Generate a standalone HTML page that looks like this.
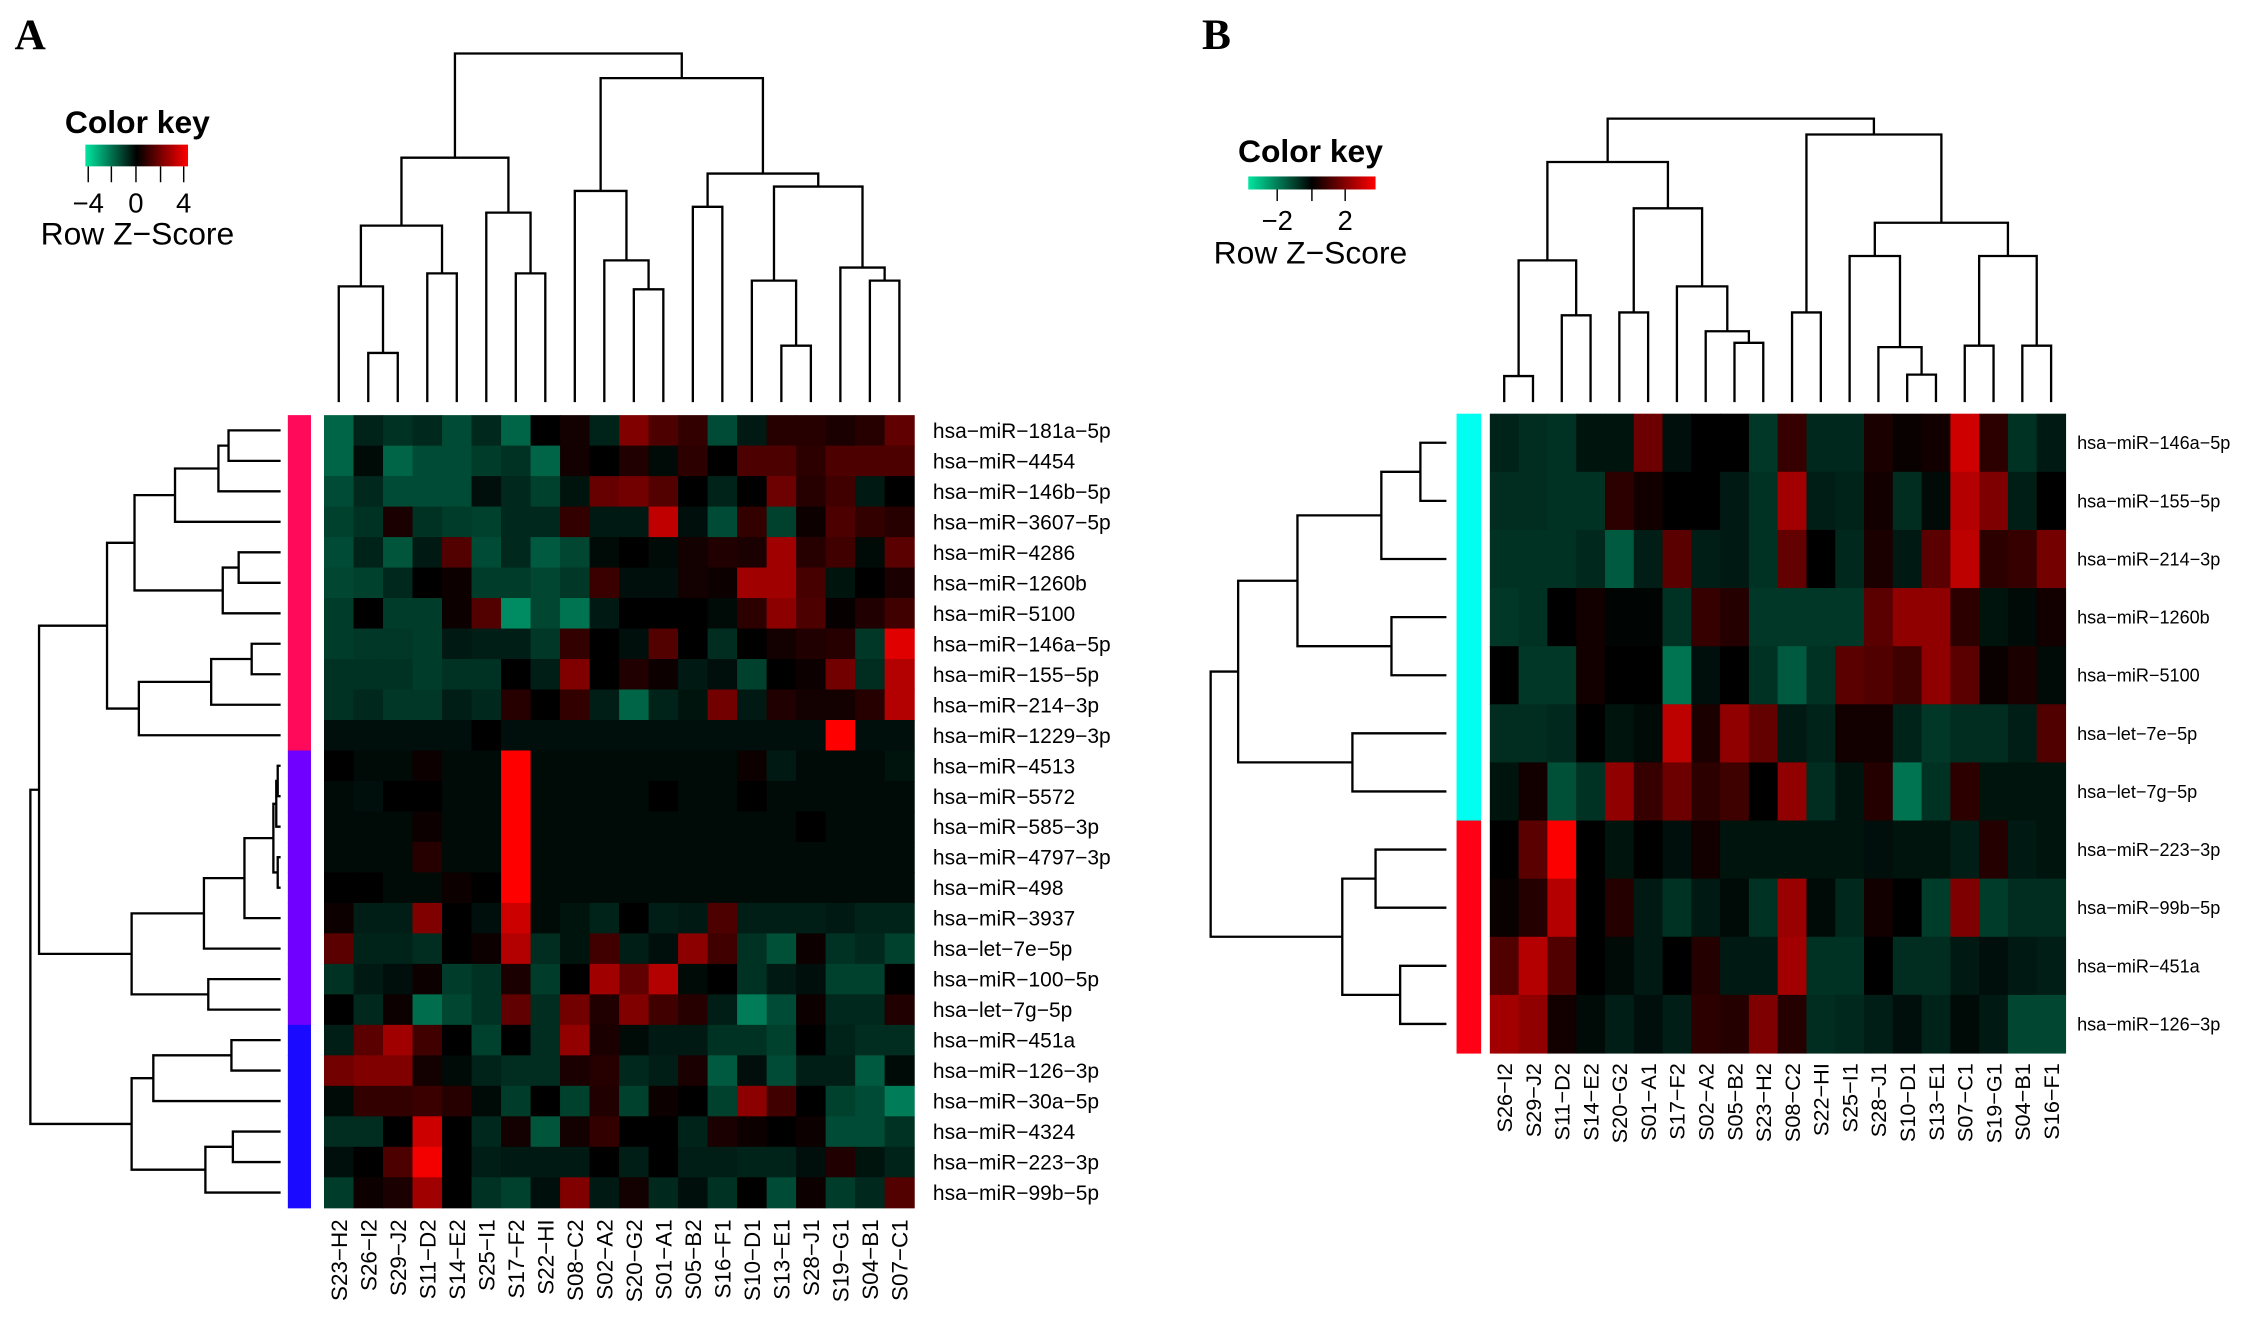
<!DOCTYPE html>
<html><head><meta charset="utf-8">
<style>
html,body{margin:0;padding:0;background:#fff;}
svg{display:block;}
text{font-family:"Liberation Sans",Arial,sans-serif;fill:#000;}
</style></head>
<body>
<svg id="fig" xmlns="http://www.w3.org/2000/svg" width="2268" height="1330" viewBox="0 0 1568 919.5" preserveAspectRatio="none">
<defs>
<linearGradient id="keyGrad" x1="0" x2="1" y1="0" y2="0">
<stop offset="0" stop-color="#00e6a0"/><stop offset="0.5" stop-color="#000"/><stop offset="1" stop-color="#ff0000"/>
</linearGradient>
</defs>
<text x="10" y="34" style="font-family:'Liberation Serif',serif;font-weight:bold;font-size:30px">A</text>
<text x="831" y="34" style="font-family:'Liberation Serif',serif;font-weight:bold;font-size:30px">B</text>

<g>
<text x="95" y="92" text-anchor="middle" style="font-weight:bold;font-size:22px">Color key</text>
<rect x="59" y="100" width="71" height="15" fill="url(#keyGrad)"/>
<g stroke="#000" stroke-width="1">
<line x1="61" y1="115" x2="61" y2="126"/><line x1="77" y1="115" x2="77" y2="126"/><line x1="94" y1="115" x2="94" y2="126"/><line x1="111" y1="115" x2="111" y2="126"/><line x1="127" y1="115" x2="127" y2="126"/>
</g>
<text x="61" y="147" text-anchor="middle" style="font-size:19px">−4</text>
<text x="94" y="147" text-anchor="middle" style="font-size:19px">0</text>
<text x="127" y="147" text-anchor="middle" style="font-size:19px">4</text>
<text x="95" y="169" text-anchor="middle" style="font-size:22px">Row Z−Score</text>
</g>

<g>
<text x="906" y="112" text-anchor="middle" style="font-weight:bold;font-size:22px">Color key</text>
<rect x="863" y="122" width="88" height="9" fill="url(#keyGrad)"/>
<g stroke="#000" stroke-width="1">
<line x1="883" y1="131" x2="883" y2="139"/><line x1="907" y1="131" x2="907" y2="139"/><line x1="930" y1="131" x2="930" y2="139"/>
</g>
<text x="883" y="159" text-anchor="middle" style="font-size:19px">−2</text>
<text x="930" y="159" text-anchor="middle" style="font-size:19px">2</text>
<text x="906" y="182" text-anchor="middle" style="font-size:22px">Row Z−Score</text>
</g>
<g id="plotA"></g>
<g id="plotB"></g>
</svg>
<script>
function m(a,b,h){ return [a,b,h]; }
// ---------- Panel A data ----------
const colsA = ["S23−H2","S26−I2","S29−J2","S11−D2","S14−E2","S25−I1","S17−F2","S22−HI","S08−C2","S02−A2","S20−G2","S01−A1","S05−B2","S16−F1","S10−D1","S13−E1","S28−J1","S19−G1","S04−B1","S07−C1"];
const rowsA = ["hsa−miR−181a−5p","hsa−miR−4454","hsa−miR−146b−5p","hsa−miR−3607−5p","hsa−miR−4286","hsa−miR−1260b","hsa−miR−5100","hsa−miR−146a−5p","hsa−miR−155−5p","hsa−miR−214−3p","hsa−miR−1229−3p","hsa−miR−4513","hsa−miR−5572","hsa−miR−585−3p","hsa−miR−4797−3p","hsa−miR−498","hsa−miR−3937","hsa−let−7e−5p","hsa−miR−100−5p","hsa−let−7g−5p","hsa−miR−451a","hsa−miR−126−3p","hsa−miR−30a−5p","hsa−miR−4324","hsa−miR−223−3p","hsa−miR−99b−5p"];
const groupsA = [0,0,0,0,0,0,0,0,0,0,0,1,1,1,1,1,1,1,1,1,2,2,2,2,2,2];
const groupColorsA = ["#ff0a5a","#7000ff","#1a0aff"];
const valsA = [
[-2,-0.7,-1,-0.8,-1.5,-0.8,-2,0,0.3,-0.7,2,1.2,0.8,-1.5,-0.5,0.6,0.6,0.4,0.6,1.5],
[-2,-0.2,-2,-1.5,-1.5,-1.2,-1,-2,0.3,0,0.5,-0.2,0.7,0,1.2,1.2,0.7,1.2,1.2,1.2],
[-1.5,-0.8,-1.5,-1.5,-1.5,-0.3,-0.8,-1.3,-0.4,1.6,1.8,1.3,0,-0.7,0,1.7,0.6,1,-0.5,0],
[-1.3,-1,0.4,-1,-1.2,-1.3,-0.8,-0.8,0.8,-0.5,-0.5,3,-0.3,-1.5,0.8,-1.3,0.2,1.2,0.8,0.6],
[-1.5,-0.7,-1.7,-0.5,1.3,-1.5,-0.8,-1.8,-1.4,-0.2,0,-0.2,0.3,0.5,0.4,2.5,0.6,1,-0.2,1.4],
[-1.4,-1.3,-0.8,0,0.2,-1.2,-1.2,-1.4,-1.1,0.9,-0.3,-0.3,0.3,0.2,2.5,2.5,1.1,-0.4,0,0.4],
[-1.2,0,-1.2,-1.2,0.2,1.3,-2.8,-1.4,-2.3,-0.5,0,0,0,-0.2,0.7,2.2,1.2,0.1,0.5,1],
[-1.2,-1.1,-1.1,-1.2,-0.5,-0.6,-0.6,-1.1,0.8,0,-0.3,1.3,0,-0.9,0,0.3,0.5,0.6,-1.1,3.5],
[-1,-1,-1,-1.2,-1,-1,0,-0.6,2,0,0.5,0.2,-0.5,-0.3,-1.3,0,0.2,1.8,-0.9,2.8],
[-1,-0.8,-1.1,-1.1,-0.6,-0.8,0.6,0,0.8,-0.6,-2,-0.7,-0.4,1.8,-0.5,0.5,0.3,0.3,0.6,2.8],
[-0.3,-0.3,-0.3,-0.3,-0.3,0,-0.3,-0.3,-0.3,-0.3,-0.3,-0.3,-0.3,-0.3,-0.3,-0.3,-0.3,4,-0.3,-0.3],
[0,-0.2,-0.2,0.2,-0.2,-0.2,4,-0.2,-0.2,-0.2,-0.2,-0.2,-0.2,-0.2,0.2,-0.5,-0.2,-0.2,-0.2,-0.4],
[-0.2,-0.3,0,0,-0.2,-0.2,4,-0.2,-0.2,-0.2,-0.2,0,-0.2,-0.2,0,-0.2,-0.2,-0.2,-0.2,-0.2],
[-0.2,-0.2,-0.2,0.2,-0.2,-0.2,4,-0.2,-0.2,-0.2,-0.2,-0.2,-0.2,-0.2,-0.2,-0.2,0,-0.2,-0.2,-0.2],
[-0.2,-0.2,-0.2,0.6,-0.2,-0.2,4,-0.2,-0.2,-0.2,-0.2,-0.2,-0.2,-0.2,-0.2,-0.2,-0.2,-0.2,-0.2,-0.2],
[0,0,-0.2,-0.2,0.2,0,4,-0.2,-0.2,-0.2,-0.2,-0.2,-0.2,-0.2,-0.2,-0.2,-0.2,-0.2,-0.2,-0.2],
[0.2,-0.6,-0.6,2,0,-0.3,3.2,-0.2,-0.4,-0.7,0,-0.6,-0.5,1.2,-0.6,-0.6,-0.6,-0.5,-0.7,-0.7],
[1.4,-0.7,-0.7,-0.9,0,0.2,2.8,-0.9,-0.4,1,-0.6,-0.3,2.2,1,-1,-1.6,0.2,-1,-0.8,-1.3],
[-1,-0.5,-0.3,0.2,-1.2,-1,0.4,-1.2,0,2.5,1.5,2.8,-0.2,0,-1,-0.5,-0.3,-1.3,-1.3,0],
[0,-0.8,0.2,-2.2,-1.4,-1,1.5,-0.9,1.8,0.5,2,1,0.6,-0.6,-2.5,-1.5,0.2,-0.8,-0.8,0.5],
[-0.6,1.4,2.5,1,0,-1.3,0,-0.9,2.3,0.4,-0.2,-0.5,-0.5,-1,-1,-1.3,0,-0.7,-0.9,-0.9],
[1.8,2,2,0.3,-0.2,-0.7,-0.9,-0.9,0.4,0.6,-0.8,-0.6,0.4,-1.8,-0.3,-1.5,-0.6,-0.6,-1.8,-0.2],
[-0.2,0.8,0.8,0.9,0.6,-0.2,-1.2,0,-1.3,0.5,-1.3,0.2,0,-1.3,2.2,1,0,-1.3,-1.5,-2.5],
[-0.9,-0.9,0,3.2,0,-0.8,0.3,-1.7,0.3,0.8,0,0,-0.7,0.4,0.2,0,0.2,-1.5,-1.5,-1],
[-0.3,0,1.2,3.8,0,-0.6,-0.5,-0.5,-0.5,0,-0.6,0,-0.6,-0.6,-0.7,-0.7,-0.3,0.5,-0.4,-0.7],
[-1.2,0.2,0.4,2.5,0,-1,-1.3,-0.3,2,-0.5,0.3,-0.8,-0.3,-1,0,-1.5,0.2,-1.2,-0.8,1.3]
];
const colTreeA = m(m(m(m(0,m(1,2,244),198),m(3,4,189),156),m(5,m(6,7,189),147),109), m(m(8,m(9,m(10,11,200),180),132), m(m(12,13,143), m(m(14,m(15,16,239),194), m(17,m(18,19,194),185),129),120),54),37);
const rowTreeA = m(m(m(m(m(m(m(0,1,158),2,151),3,121), m(m(4,5,165),6,154),93), m(m(m(7,8,174),9,146),10,96),74), m(m(m(m(m(m(11,12,192),13,191),m(14,15,192),189),16,169),17,141), m(18,19,144),91),27), m(m(m(20,21,160),22,106), m(m(23,24,161),25,142),91),21);

// ---------- Panel B data ----------
const colsB = ["S26−I2","S29−J2","S11−D2","S14−E2","S20−G2","S01−A1","S17−F2","S02−A2","S05−B2","S23−H2","S08−C2","S22−HI","S25−I1","S28−J1","S10−D1","S13−E1","S07−C1","S19−G1","S04−B1","S16−F1"];
const rowsB = ["hsa−miR−146a−5p","hsa−miR−155−5p","hsa−miR−214−3p","hsa−miR−1260b","hsa−miR−5100","hsa−let−7e−5p","hsa−let−7g−5p","hsa−miR−223−3p","hsa−miR−99b−5p","hsa−miR−451a","hsa−miR−126−3p"];
const groupsB = [0,0,0,0,0,0,0,1,1,1,1];
const groupColorsB = ["#00fff0","#ff0015"];
const valsB = [
[-0.7,-0.9,-1,-0.4,-0.4,1.2,-0.3,0,0,-1.1,0.6,-0.8,-0.8,0.3,0.1,0.2,2.3,0.5,-1,-0.5],
[-0.9,-0.9,-1,-1,0.5,0.2,0,0,-0.5,-1,1.8,-0.6,-0.7,0.2,-0.9,-0.2,2,1.4,-0.6,0],
[-1,-1,-1,-0.8,-1.8,-0.6,1,-0.6,-0.5,-1,1.1,0,-0.8,0.3,-0.5,1,2.1,0.5,0.6,1.3],
[-1.1,-1,0,0.2,-0.1,-0.1,-1,0.6,0.4,-1.1,-1.1,-1.1,-1.1,1,1.6,1.6,0.5,-0.4,-0.2,0.2],
[0,-1.1,-1.1,0.2,0,0,-2.3,-0.3,0,-1,-1.8,-1,1,0.9,0.7,1.6,1,0.1,0.3,-0.2],
[-0.9,-0.9,-0.8,0,-0.4,-0.2,2.1,0.3,1.6,1.1,-0.5,-0.7,0.2,0.2,-0.7,-1.1,-0.9,-0.9,-0.6,0.9],
[-0.4,0.2,-1.6,-1,1.6,0.6,1.2,0.5,0.7,0,1.6,-0.9,-0.4,0.4,-2.3,-1,0.5,-0.4,-0.4,-0.4],
[0,1,2.8,0,-0.4,0,-0.3,0.2,-0.4,-0.4,-0.4,-0.4,-0.4,-0.3,-0.4,-0.4,-0.6,0.4,-0.5,-0.4],
[0.1,0.4,2,0,0.4,-0.5,-1,-0.5,-0.2,-1,1.7,-0.2,-0.8,0.2,0,-1.2,1.4,-1.2,-0.9,-0.9],
[0.9,2,0.9,0,-0.2,-0.5,0,0.4,-0.5,-0.5,1.8,-1,-1,0,-0.9,-0.9,-0.5,-0.3,-0.5,-0.6],
[1.8,1.6,0.2,-0.2,-0.6,-0.3,-0.6,0.5,0.4,1.4,0.4,-0.9,-0.8,-0.6,-0.3,-0.7,-0.2,-0.5,-1.4,-1.4]
];
const colTreeB = m(m(m(m(0,1,260),m(2,3,218),180), m(m(4,5,216), m(6,m(7,m(8,9,237),229),198),144),112), m(m(10,11,216), m(m(12,m(13,m(14,15,259),240),177), m(m(16,17,239),m(18,19,239),177),154),93),82);
const rowTreeB = m(m(m(m(m(0,1,982),2,955),m(3,4,962),897),m(5,6,935),856), m(m(7,8,951),m(9,10,968),928),837);

const NS = "http://www.w3.org/2000/svg";
function mk(parent, tag, attrs){ const e=document.createElementNS(NS,tag); for(const k in attrs) e.setAttribute(k,attrs[k]); parent.appendChild(e); return e; }
function color(v, rf, gf){
  if(v>=0){ const r=Math.min(255,Math.round(v*rf)); return "rgb("+r+",0,0)"; }
  const g=Math.min(210,Math.round(-v*gf)); return "rgb(0,"+g+","+Math.round(g*0.7)+")";
}
function drawTree(g, node, posFn, leafH, vertical, name){
  if(typeof node === "number") return {p:posFn(node), h:leafH};
  const a=drawTree(g,node[0],posFn,leafH,vertical,name), b=drawTree(g,node[1],posFn,leafH,vertical,name), h=node[2];
  let d;
  if(vertical) d="M"+a.p+" "+a.h+"V"+h+"H"+b.p+"V"+b.h;
  else d="M"+a.h+" "+a.p+"H"+h+"V"+b.p+"H"+b.h;
  const p=mk(g,"path",{d:d,fill:"none",stroke:"#000","stroke-width":1.6});
  
  
  return {p:(a.p+b.p)/2, h:h};
}
function panel(gid, o){
  const g=document.getElementById(gid);
  const nr=o.rows.length, nc=o.cols.length;
  const cw=o.w/nc, rh=o.h/nr;
  const xs=i=>o.x+cw*(i+0.5), ys=j=>o.y+rh*(j+0.5);
  for(let j=0;j<nr;j++){
    for(let i=0;i<nc;i++){
      const r=mk(g,"rect",{x:(o.x+cw*i).toFixed(2),y:(o.y+rh*j).toFixed(2),width:(cw+0.4).toFixed(2),height:(rh+0.4).toFixed(2),fill:color(o.vals[j][i],o.rf,o.gf)});
      
      
    }
    const sb=mk(g,"rect",{x:o.sbx,y:(o.y+rh*j).toFixed(2),width:o.sbw,height:(rh+0.4).toFixed(2),fill:o.gcol[o.groups[j]]});
    
    
    const t=mk(g,"text",{x:o.x+o.w+o.lgap,y:(ys(j)+o.rfs*0.36).toFixed(2),"font-size":o.rfs});
    t.textContent=o.rows[j];
    
    
  }
  for(let i=0;i<nc;i++){
    const tx=xs(i)+o.cfs*0.36, ty=o.y+o.h+o.cgap;
    const t=mk(g,"text",{x:0,y:0,"font-size":o.cfs,"text-anchor":"end",transform:"translate("+tx.toFixed(2)+","+ty+") rotate(-90)"});
    t.textContent=o.cols[i];
    
    
  }
  const cg=mk(g,"g",{});
  
  
  drawTree(cg,o.colTree,xs,o.colLeafH,true,'column-dendrogram-branch');
  const rg=mk(g,"g",{});
  
  
  drawTree(rg,o.rowTree,ys,o.rowLeafH,false,'row-dendrogram-branch');
}
panel("plotA",{x:224,y:287,w:408,h:548,rows:rowsA,cols:colsA,vals:valsA,groups:groupsA,gcol:groupColorsA,rf:64,gf:50,sbx:199,sbw:16,lgap:13,rfs:14.5,cfs:15.5,cgap:8,colTree:colTreeA,colLeafH:278,rowTree:rowTreeA,rowLeafH:194});
panel("plotB",{x:1030,y:286,w:398,h:442,rows:rowsB,cols:colsB,vals:valsB,groups:groupsB,gcol:groupColorsB,rf:90,gf:50,sbx:1007,sbw:17,lgap:8,rfs:12.5,cfs:15,cgap:7,colTree:colTreeB,colLeafH:278,rowTree:rowTreeB,rowLeafH:1000});
</script>
</body></html>
